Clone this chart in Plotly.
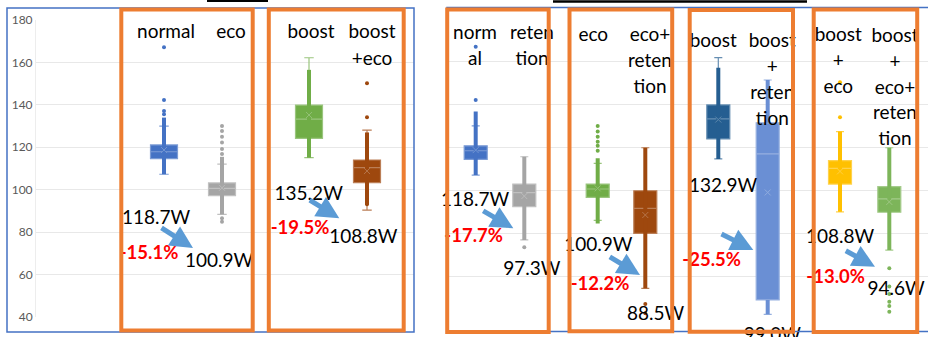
import plotly.graph_objects as go

# ---------------- data ----------------
left_categories = ["normal", "eco", "boost", "boost+eco"]
left_q1 = [114.6, 97.2, 124.2, 103.3]
left_median = [117.9, 100.6, 133.3, 110.4]
left_q3 = [121.1, 103.2, 139.9, 114.0]
left_lower = [107.3, 88.4, 115.1, 90.4]
left_upper = [130.0, 112.1, 162.2, 128.1]
left_mean = [118.7, 100.9, 135.2, 108.8]
left_dense = [[[107.3, 134.0]], [[88.4, 115.5]], [[115.1, 156.5]], [[93.0, 127.0]]]
left_outliers = [
    [167.1, 142.3, 137.1, 135.6],
    [130.0, 127.7, 125.0, 122.2, 119.2, 116.8, 86.6, 84.9],
    [],
    [150.2, 134.1, 95.1, 93.1],
]

right_categories = ["normal", "retention", "eco", "eco+retention", "boost",
                    "boost+retention", "boost+eco", "boost+eco+retention"]
right_q1 = [114.4, 92.4, 96.7, 80.0, 123.9, 49.0, 102.9, 89.8]
right_median = [118.4, 98.9, 100.6, 91.6, 133.2, 116.9, 110.2, 96.0]
right_q3 = [120.7, 102.9, 102.9, 99.8, 139.7, 131.4, 113.8, 101.7]
right_lower = [107.1, 76.9, 86.0, 54.4, 114.6, 42.3, 90.0, 72.2]
right_upper = [130.0, 115.6, 112.5, 119.8, 161.7, 151.3, 127.3, 119.8]
right_mean = [118.7, 97.3, 100.9, 88.5, 132.9, 99.0, 108.8, 94.6]
right_dense = [[[107.1, 136.6]], [[76.9, 115.6]], [[84.6, 114.9]], [[54.4, 119.8]],
               [[114.6, 157.0]], [[42.3, 49.0], [131.4, 151.3]], [[90.0, 127.3]],
               [[72.2, 119.8]]]
right_outliers = [
    [166.8, 142.0],
    [73.5],
    [129.9, 127.4, 124.9, 122.6, 120.7, 118.4],
    [47.1, 42.8],
    [],
    [],
    [150.2, 134.0],
    [63.7, 55.2, 51.8, 48.2, 46.2, 43.5],
]

# header labels (lines of each category name as printed)
left_header_lines = [["normal"], ["eco"], ["boost"], ["boost", "+eco"]]
right_header_lines = [["norm", "al"], ["reten", "tion"], ["eco"], ["eco+", "reten", "tion"],
                      ["boost"], ["boost", "+", "reten", "tion"], ["boost", "+", "eco"],
                      ["boost", "+", "eco+", "reten", "tion"]]

# comparison annotations: (from, to) mean labels and percent change
left_pairs = [(0, 1), (2, 3)]
left_pct = ["-15.1%", "-19.5%"]
right_pairs = [(0, 1), (2, 3), (4, 5), (6, 7)]
right_pct = ["-17.7%", "-12.2%", "-25.5%", "-13.0%"]

y_ticks = [40, 60, 80, 100, 120, 140, 160, 180]

# ---------------- styling / layout constants ----------------
W, H = 928, 337
left_colors = ["#4472C4", "#A5A5A5", "#70AD47", "#9E480E"]
right_colors = ["#4472C4", "#A5A5A5", "#70AD47", "#9E480E",
                "#255E91", "#6A8FD4", "#FFC000", "#7DB55A"]
left_pos = [164, 222, 309, 367]
right_pos = [475.7, 524.3, 597.7, 645.3, 718.3, 767.7, 840, 889.3]
left_box_w = 27
right_box_w = 23

# header positions (pixel centre of first line, line spacing)
left_header_xy = [(166, 33), (231, 33), (311, 33), (372, 33)]
right_header_xy = [(475, 34.5), (532, 34.5), (593.3, 36.7), (650, 36.7), (713.3, 42),
                   (772.3, 42.7), (838.3, 36.7), (895, 37.3)]
left_line_gap = 27
right_line_gap = 25.8

# value / percent label positions in pixels
left_from_xy = [(156, 219), (308.7, 195)]
left_to_xy = [(219, 262), (363.3, 238.5)]
left_pct_xy = [(149, 254), (300, 229.5)]
left_arrows = [((160, 227), (193, 248)), ((308.3, 199.3), (339.3, 218.3))]

right_from_xy = [(475, 201.7), (598.4, 246.7), (723, 187.7), (840, 238.3)]
right_to_xy = [(531.8, 270.7), (655.7, 315), (772.3, 336.5), (896, 290)]
right_pct_xy = [(473.7, 237.3), (600, 285.7), (711.7, 261.7), (835.7, 278.3)]
right_arrows = [((481.7, 210), (513.3, 228.3)), ((608.3, 256), (640, 275)),
                ((720, 233.3), (753.3, 250)), ((844.3, 250), (875, 266.7))]


def lighten(hex_color, f):
    h = hex_color.lstrip("#")
    r, g, b = int(h[0:2], 16), int(h[2:4], 16), int(h[4:6], 16)
    r = int(r + (255 - r) * f)
    g = int(g + (255 - g) * f)
    b = int(b + (255 - b) * f)
    return f"rgb({r},{g},{b})"


fig = go.Figure()


def add_panel(xa, ya, cats, pos, q1, med, q3, lo, hi, mean, dense, outl, colors, bw):
    for i, c in enumerate(cats):
        col = colors[i]
        fig.add_trace(go.Box(
            x=[pos[i]], q1=[q1[i]], median=[med[i]], q3=[q3[i]],
            lowerfence=[lo[i]], upperfence=[hi[i]], name=c,
            width=bw, fillcolor=col, line=dict(color=lighten(col, 0.3), width=1.2),
            whiskerwidth=0.35, boxpoints=False, xaxis=xa, yaxis=ya,
            hoverinfo="skip", showlegend=False))
        for seg in dense[i]:
            fig.add_trace(go.Scatter(
                x=[pos[i], pos[i]], y=seg, mode="lines",
                line=dict(color=col, width=4), xaxis=xa, yaxis=ya,
                hoverinfo="skip", showlegend=False))
        if outl[i]:
            fig.add_trace(go.Scatter(
                x=[pos[i]] * len(outl[i]), y=outl[i], mode="markers",
                marker=dict(color=col, size=4), xaxis=xa, yaxis=ya,
                hoverinfo="skip", showlegend=False))
        fig.add_trace(go.Scatter(
            x=[pos[i]], y=[mean[i]], mode="markers",
            marker=dict(symbol="x-thin", size=6, line=dict(color=lighten(col, 0.25), width=1)),
            xaxis=xa, yaxis=ya, hoverinfo="skip", showlegend=False))


add_panel("x", "y", left_categories, left_pos, left_q1, left_median, left_q3,
          left_lower, left_upper, left_mean, left_dense, left_outliers, left_colors, left_box_w)
add_panel("x2", "y2", right_categories, right_pos, right_q1, right_median, right_q3,
          right_lower, right_upper, right_mean, right_dense, right_outliers, right_colors, right_box_w)

# ---- texts on an overlay axis in pixel units ----
tx, ty, tt = [], [], []
for lines, (x0, y0) in zip(left_header_lines, left_header_xy):
    for k, s in enumerate(lines):
        tx.append(x0); ty.append(y0 + k * left_line_gap); tt.append(s)
for lines, (x0, y0) in zip(right_header_lines, right_header_xy):
    for k, s in enumerate(lines):
        tx.append(x0); ty.append(y0 + k * right_line_gap); tt.append(s)
for (a, b), fxy, txy in zip(left_pairs, left_from_xy, left_to_xy):
    tx += [fxy[0], txy[0]]; ty += [fxy[1], txy[1]]
    tt += [f"{left_mean[a]:.1f}W", f"{left_mean[b]:.1f}W"]
for (a, b), fxy, txy in zip(right_pairs, right_from_xy, right_to_xy):
    tx += [fxy[0], txy[0]]; ty += [fxy[1], txy[1]]
    tt += [f"{right_mean[a]:.1f}W", f"{right_mean[b]:.1f}W"]

fig.add_trace(go.Scatter(
    x=tx, y=ty, text=tt, mode="text", textposition="middle center",
    textfont=dict(family="Lato", size=19, color="#000000"),
    xaxis="x3", yaxis="y3", cliponaxis=False, hoverinfo="skip", showlegend=False))

px_, py_, pt_ = [], [], []
for s, xy in zip(left_pct + right_pct, left_pct_xy + right_pct_xy):
    px_.append(xy[0]); py_.append(xy[1]); pt_.append(s)
fig.add_trace(go.Scatter(
    x=px_, y=py_, text=pt_, mode="text", textposition="middle center",
    textfont=dict(family="Lato", size=18.5, color="#FF0000", weight="bold"),
    xaxis="x3", yaxis="y3", cliponaxis=False, hoverinfo="skip", showlegend=False))

# ---- arrows ----
annotations = []
for (t0, t1) in left_arrows + right_arrows:
    annotations.append(dict(
        x=t1[0], y=t1[1], ax=t0[0], ay=t0[1], xref="x3", yref="y3",
        axref="x3", ayref="y3", text="", showarrow=True, arrowhead=2,
        arrowsize=0.9, arrowwidth=5, arrowcolor="#5B9BD5", standoff=0))

# ---- frames ----
shapes = []
shapes.append(dict(type="rect", xref="x3", yref="y3", x0=7, x1=414, y0=8, y1=332,
                   line=dict(color="#4472C4", width=1.5), layer="above"))
shapes.append(dict(type="rect", xref="x3", yref="y3", x0=447, x1=935, y0=7.5, y1=331.5,
                   line=dict(color="#4472C4", width=1.5), layer="above"))
shapes.append(dict(type="line", xref="x3", yref="y3", x0=207, x1=268, y0=1, y1=1,
                   line=dict(color="#000000", width=2), layer="above"))
shapes.append(dict(type="line", xref="x3", yref="y3", x0=553, x1=807, y0=1.5, y1=1.5,
                   line=dict(color="#000000", width=2.5), layer="above"))
orange_boxes = [(121.3, 252.7, 9.5, 330.5), (268.8, 403.7, 9.5, 330.5),
                (447.2, 548.7, 9.5, 332), (569.5, 672.2, 9.5, 331.3),
                (689.7, 793, 10, 331.7), (813.7, 917.2, 9.5, 332)]
for x0, x1, y0, y1 in orange_boxes:
    shapes.append(dict(type="rect", xref="x3", yref="y3", x0=x0, x1=x1, y0=y0, y1=y1,
                       line=dict(color="#ED7D31", width=4), layer="above"))

grid = "#E8E8E8"
fig.update_layout(
    template="none",
    width=W, height=H, autosize=False,
    margin=dict(l=0, r=0, t=0, b=0, pad=0, autoexpand=False),
    paper_bgcolor="white", plot_bgcolor="rgba(0,0,0,0)",
    font=dict(family="Lato"),
    showlegend=False,
    xaxis=dict(domain=[36 / W, 414 / W], range=[36, 414], visible=False, anchor="y",
               automargin=False),
    yaxis=dict(domain=[(H - 317) / H, (H - 20) / H], range=[40, 180], tickvals=y_ticks,
               showgrid=True, gridcolor=grid, gridwidth=1, zeroline=False, ticks="",
               showline=True, linecolor="#EDEDED", linewidth=1, automargin=False,
               tickfont=dict(family="Lato", size=12, color="#595959"), anchor="x"),
    xaxis2=dict(domain=[449 / W, 1], range=[449, 928], visible=False, anchor="y2",
                automargin=False),
    yaxis2=dict(domain=[(H - 319.3) / H, (H - 18.3) / H], range=[40, 180], tickvals=y_ticks,
                showgrid=True, gridcolor=grid, gridwidth=1, zeroline=False, ticks="",
                showticklabels=False, automargin=False, anchor="x2"),
    xaxis3=dict(domain=[0, 1], range=[0, W], visible=False, anchor="y3", automargin=False),
    yaxis3=dict(domain=[0, 1], range=[H, 0], visible=False, anchor="x3", automargin=False),
    shapes=shapes,
    annotations=annotations,
)

fig.write_html("out.html",
               config={"displayModeBar": False, "responsive": False},
               post_script="document.documentElement.style.margin='0px';"
                           "document.body.style.margin='0px';document.body.style.padding='0px';"
                           "document.documentElement.style.overflow='hidden';")
